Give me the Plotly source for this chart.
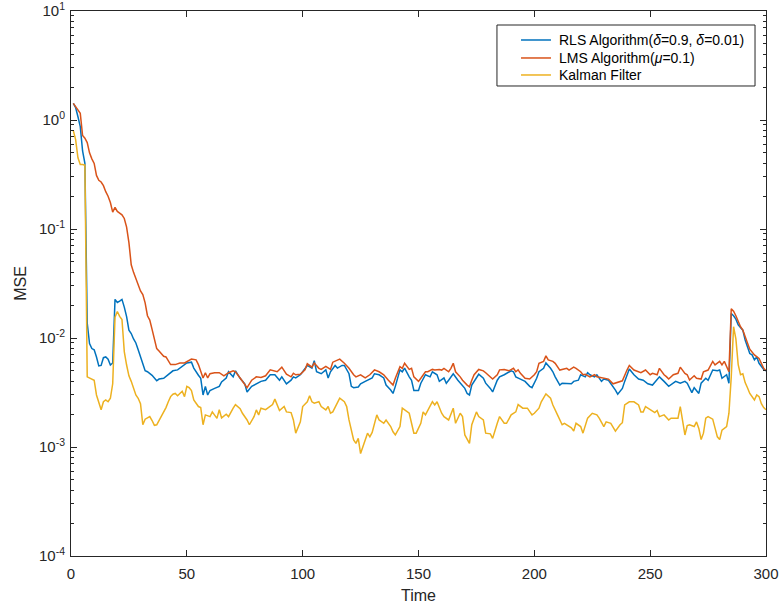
import plotly.graph_objects as go

# ---- data: mean-square error per time step ----
rls_t = [1, 2, 3, 4, 5, 6, 7, 8, 9, 10, 11, 12, 13, 14, 15, 16, 17, 18, 19, 20,
         21, 22, 23, 24, 25, 26, 27, 28, 29, 30, 31, 32, 33, 35, 37, 38, 40, 42, 44, 46,
         48, 50, 52, 53, 55, 56, 57, 58, 59, 60, 62, 64, 65, 67, 68, 70, 71, 73, 75, 76,
         78, 80, 82, 84, 86, 88, 90, 91, 93, 95, 96, 97, 99, 100, 102, 104, 105, 106, 108, 110,
         111, 112, 114, 115, 117, 118, 120, 121, 122, 124, 125, 127, 130, 131, 133, 135, 136, 138, 139, 140,
         142, 143, 144, 146, 147, 148, 150, 151, 153, 155, 156, 158, 159, 161, 162, 163, 165, 167, 168, 170,
         171, 172, 173, 175, 176, 178, 179, 181, 182, 184, 185, 187, 188, 190, 191, 192, 194, 196, 198, 199,
         201, 202, 204, 205, 207, 208, 209, 211, 212, 214, 216, 217, 219, 220, 222, 223, 224, 226, 227, 229,
         230, 232, 233, 235, 236, 238, 239, 241, 243, 245, 247, 249, 251, 253, 254, 256, 258, 261, 263, 265,
         266, 268, 269, 271, 272, 274, 275, 277, 279, 280, 281, 283, 284, 285, 286, 287, 288, 290, 291, 293,
         294, 295, 296, 297, 299, 300]
rls_mse = [1.42, 1.30, 1.07, 0.87, 0.52, 0.40, 0.0137, 0.0089, 0.0080, 0.0078, 0.0067, 0.00555, 0.0056, 0.0066, 0.0067, 0.0064, 0.00565, 0.0059, 0.0226, 0.0212,
           0.0218, 0.0226, 0.0192, 0.0157, 0.0118, 0.0110, 0.0098, 0.0090, 0.0078, 0.0067, 0.0056, 0.0050, 0.0049, 0.00455, 0.00405, 0.0042, 0.00427, 0.0046, 0.0050, 0.0051,
           0.0055, 0.0059, 0.0060, 0.0053, 0.00455, 0.00427, 0.0030, 0.0036, 0.0030, 0.0033, 0.00345, 0.0036, 0.00395, 0.0043, 0.0049, 0.0044, 0.0050, 0.00427, 0.0038, 0.0032,
           0.0036, 0.0038, 0.0040, 0.0041, 0.0046, 0.0046, 0.0041, 0.0044, 0.0038, 0.0041, 0.0044, 0.0043, 0.0046, 0.0049, 0.0056, 0.0053, 0.0062, 0.0049, 0.0047, 0.0051,
           0.0043, 0.0049, 0.0056, 0.0053, 0.0056, 0.0056, 0.0047, 0.0036, 0.0035, 0.00355, 0.0038, 0.0040, 0.0043, 0.0047, 0.0046, 0.0043, 0.0037, 0.00333, 0.0031, 0.0036,
           0.0051, 0.0049, 0.0053, 0.0044, 0.0041, 0.0033, 0.0033, 0.00385, 0.0046, 0.0044, 0.0049, 0.0046, 0.0040, 0.0043, 0.00385, 0.0041, 0.0047, 0.0041, 0.00385, 0.00345,
           0.0031, 0.0030, 0.0037, 0.0044, 0.00465, 0.00427, 0.00385, 0.00345, 0.0032, 0.0041, 0.0044, 0.0046, 0.00475, 0.0050, 0.0049, 0.0044, 0.0042, 0.0040, 0.0036, 0.0035,
           0.00427, 0.0049, 0.00527, 0.0059, 0.00527, 0.0049, 0.0044, 0.0037, 0.00385, 0.00385, 0.0038, 0.0040, 0.0041, 0.0046, 0.0044, 0.0048, 0.0046, 0.0044, 0.0046, 0.0040,
           0.0042, 0.0041, 0.00385, 0.00333, 0.00305, 0.00345, 0.0040, 0.0052, 0.0046, 0.0042, 0.0041, 0.0038, 0.0037, 0.0041, 0.0044, 0.0040, 0.0036, 0.0040, 0.00385, 0.0040,
           0.00385, 0.00315, 0.0035, 0.0031, 0.00385, 0.00427, 0.0041, 0.00508, 0.0050, 0.00508, 0.00427, 0.0046, 0.00385, 0.0168, 0.0160, 0.0149, 0.0132, 0.0118, 0.0096, 0.0072,
           0.0070, 0.0063, 0.0067, 0.00586, 0.00515, 0.0050]

lms_t = [1, 2, 3, 4, 5, 6, 7, 8, 9, 10, 11, 12, 13, 14, 15, 16, 17, 18, 19, 20,
         21, 22, 23, 24, 25, 26, 27, 28, 29, 30, 31, 32, 33, 34, 35, 36, 37, 38, 39, 40,
         41, 42, 43, 45, 47, 49, 51, 52, 54, 55, 57, 58, 59, 60, 62, 64, 66, 68, 70, 71,
         73, 75, 76, 78, 80, 82, 84, 86, 88, 89, 91, 93, 95, 96, 97, 99, 101, 102, 104, 105,
         107, 108, 110, 112, 113, 115, 116, 118, 120, 122, 123, 125, 127, 129, 131, 133, 135, 137, 139, 140,
         142, 143, 144, 146, 147, 148, 150, 151, 153, 154, 156, 157, 159, 160, 161, 163, 164, 165, 166, 168,
         169, 171, 172, 173, 174, 176, 178, 179, 181, 182, 184, 185, 187, 189, 191, 192, 193, 194, 196, 198,
         200, 201, 202, 204, 205, 206, 208, 209, 211, 212, 214, 215, 217, 218, 220, 221, 222, 224, 226, 227,
         228, 230, 232, 234, 236, 238, 240, 241, 243, 245, 246, 248, 250, 251, 253, 254, 256, 257, 258, 260,
         262, 263, 265, 266, 267, 269, 270, 272, 273, 275, 277, 278, 280, 281, 282, 284, 285, 286, 287, 289,
         290, 292, 293, 295, 297, 299, 300]
lms_mse = [1.42, 1.33, 1.25, 1.15, 0.72, 0.68, 0.62, 0.50, 0.44, 0.40, 0.31, 0.28, 0.27, 0.25, 0.22, 0.20, 0.175, 0.143, 0.158, 0.145,
           0.140, 0.135, 0.125, 0.104, 0.075, 0.047, 0.040, 0.035, 0.032, 0.027, 0.025, 0.021, 0.016, 0.0146, 0.012, 0.0098, 0.0080, 0.0076, 0.0072, 0.0068,
           0.0067, 0.0062, 0.0057, 0.0057, 0.0059, 0.0059, 0.0063, 0.0064, 0.0063, 0.0057, 0.0043, 0.0048, 0.0043, 0.0047, 0.0048, 0.0048, 0.0045, 0.0048, 0.0050, 0.0049,
           0.0043, 0.0038, 0.0035, 0.0041, 0.0044, 0.00435, 0.0045, 0.0051, 0.0050, 0.0049, 0.0054, 0.00465, 0.0044, 0.00475, 0.0046, 0.00465, 0.0051, 0.0058, 0.0054, 0.0059,
           0.00527, 0.00515, 0.0055, 0.00515, 0.0060, 0.0062, 0.0064, 0.00586, 0.00527, 0.0046, 0.0044, 0.0046, 0.0043, 0.0046, 0.0051, 0.0049, 0.0046, 0.0041, 0.0037, 0.00427,
           0.00546, 0.00527, 0.00586, 0.00515, 0.00527, 0.0044, 0.0040, 0.00427, 0.0049, 0.0049, 0.00515, 0.00508, 0.00515, 0.00508, 0.00527, 0.0049, 0.00527, 0.00586, 0.0049, 0.0044,
           0.0041, 0.0037, 0.00357, 0.0041, 0.0046, 0.00515, 0.0050, 0.0048, 0.0044, 0.0042, 0.0046, 0.0051, 0.00515, 0.0050, 0.00527, 0.0049, 0.0051, 0.00474, 0.00427, 0.0042,
           0.0046, 0.0049, 0.00586, 0.0061, 0.00685, 0.0063, 0.0061, 0.00586, 0.00508, 0.00515, 0.00527, 0.00508, 0.0054, 0.00527, 0.0049, 0.0046, 0.00465, 0.0044, 0.0046, 0.0044,
           0.00435, 0.00427, 0.0042, 0.0038, 0.0039, 0.00405, 0.00508, 0.0056, 0.00508, 0.0049, 0.0048, 0.00508, 0.0046, 0.00474, 0.0046, 0.00527, 0.0046, 0.00442, 0.0042, 0.0046,
           0.00474, 0.0054, 0.00474, 0.0046, 0.00412, 0.0045, 0.00427, 0.0042, 0.0049, 0.00508, 0.0061, 0.00567, 0.0061, 0.00567, 0.0061, 0.0049, 0.0185, 0.0176, 0.0160, 0.0127,
           0.0118, 0.0090, 0.0079, 0.0070, 0.0065, 0.00527, 0.0050]

kal_t = [1, 2, 3, 4, 5, 6, 7, 8, 9, 10, 11, 12, 13, 14, 15, 16, 17, 18, 19, 20,
         21, 22, 23, 24, 25, 26, 27, 28, 29, 30, 31, 32, 33, 34, 35, 36, 37, 38, 39, 40,
         41, 42, 43, 44, 45, 46, 47, 48, 49, 50, 51, 52, 53, 54, 55, 56, 57, 58, 59, 60,
         61, 63, 64, 65, 67, 68, 70, 71, 73, 74, 76, 77, 79, 80, 81, 82, 84, 85, 87, 88,
         89, 90, 92, 93, 95, 96, 97, 99, 100, 102, 103, 104, 105, 107, 108, 110, 111, 112, 113, 115,
         116, 118, 119, 120, 122, 123, 124, 125, 127, 128, 129, 130, 132, 133, 135, 136, 138, 139, 140, 142,
         143, 145, 146, 148, 149, 151, 152, 153, 155, 156, 157, 158, 160, 161, 163, 164, 165, 166, 168, 169,
         170, 172, 173, 175, 176, 178, 179, 181, 182, 184, 185, 187, 188, 190, 192, 193, 195, 197, 199, 200,
         202, 203, 205, 207, 208, 210, 212, 213, 215, 216, 217, 218, 220, 221, 223, 225, 227, 228, 230, 231,
         233, 234, 235, 237, 238, 239, 240, 241, 243, 245, 246, 247, 248, 250, 252, 253, 254, 256, 258, 259,
         261, 262, 263, 264, 265, 266, 267, 269, 270, 271, 272, 273, 274, 275, 277, 279, 280, 281, 283, 284,
         285, 286, 287, 288, 289, 290, 291, 292, 293, 295, 296, 297, 298, 299, 300]
kal_mse = [0.80, 0.66, 0.45, 0.39, 0.39, 0.385, 0.0044, 0.0043, 0.0042, 0.0041, 0.0030, 0.0025, 0.0022, 0.0026, 0.0027, 0.0026, 0.0028, 0.0038, 0.0155, 0.0175,
           0.0158, 0.0148, 0.0075, 0.00565, 0.0045, 0.0040, 0.0035, 0.0030, 0.0028, 0.0025, 0.0016, 0.0018, 0.00185, 0.0019, 0.00175, 0.00158, 0.0016, 0.00175, 0.00197, 0.0021,
           0.0023, 0.0026, 0.0029, 0.00305, 0.0031, 0.00295, 0.0031, 0.00325, 0.0029, 0.0036, 0.0035, 0.0033, 0.0027, 0.0025, 0.00235, 0.0023, 0.0016, 0.00197, 0.00195, 0.0019,
           0.0021, 0.00183, 0.0022, 0.00185, 0.0020, 0.0019, 0.00227, 0.00245, 0.00225, 0.00204, 0.00177, 0.0016, 0.0019, 0.00219, 0.00197, 0.00227, 0.0022, 0.00227, 0.00245, 0.00275,
           0.0024, 0.00216, 0.00235, 0.0021, 0.00207, 0.00177, 0.00134, 0.0017, 0.00235, 0.0026, 0.00295, 0.0026, 0.00252, 0.0026, 0.00235, 0.00219, 0.00235, 0.00204, 0.0021, 0.0025,
           0.0028, 0.0026, 0.00235, 0.00177, 0.00116, 0.00108, 0.0012, 0.00087, 0.00116, 0.00134, 0.00124, 0.00136, 0.00197, 0.00177, 0.00165, 0.00177, 0.00154, 0.00138, 0.00129, 0.00154,
           0.00227, 0.0021, 0.00204, 0.00134, 0.00134, 0.00165, 0.0021, 0.00197, 0.00235, 0.0026, 0.00243, 0.0026, 0.00204, 0.0019, 0.00177, 0.00197, 0.00227, 0.00165, 0.00204, 0.0019,
           0.00129, 0.00108, 0.0016, 0.0021, 0.0019, 0.00177, 0.00134, 0.00132, 0.0012, 0.00165, 0.0019, 0.00165, 0.00165, 0.00197, 0.0021, 0.00245, 0.00227, 0.00227, 0.00197, 0.00204,
           0.00227, 0.0026, 0.00307, 0.0028, 0.00243, 0.00197, 0.0016, 0.00165, 0.00154, 0.0015, 0.0014, 0.00165, 0.00154, 0.00134, 0.00184, 0.00204, 0.00197, 0.00184, 0.00154, 0.0017,
           0.00165, 0.00154, 0.0014, 0.0016, 0.00167, 0.00243, 0.00252, 0.0026, 0.0026, 0.00243, 0.0021, 0.0021, 0.00235, 0.0022, 0.00207, 0.00216, 0.0019, 0.00197, 0.00177, 0.00184,
           0.00184, 0.00184, 0.00235, 0.00165, 0.00129, 0.00157, 0.0016, 0.00154, 0.0017, 0.00148, 0.00117, 0.00134, 0.00184, 0.0019, 0.0018, 0.00124, 0.00117, 0.00143, 0.00154, 0.00204,
           0.0044, 0.0127, 0.0098, 0.0057, 0.0046, 0.0047, 0.0039, 0.0035, 0.0031, 0.0027, 0.0030, 0.0029, 0.0025, 0.0023, 0.0022]

series_names = ["RLS Algorithm(<i>δ</i>=0.9, <i>δ</i>=0.01)",
                "LMS Algorithm(<i>μ</i>=0.1)",
                "Kalman Filter"]
series_t = [rls_t, lms_t, kal_t]
series_mse = [rls_mse, lms_mse, kal_mse]
series_colors = ["#0072BD", "#D95319", "#EDB120"]

x_ticks = [0, 50, 100, 150, 200, 250, 300]
y_exponents = [-4, -3, -2, -1, 0, 1]

axis_color = "#262626"
family = "Liberation Sans, Arial, Helvetica, sans-serif"

fig = go.Figure()
for name, t, mse, color in zip(series_names, series_t, series_mse, series_colors):
    fig.add_trace(go.Scatter(x=t, y=mse, mode="lines", name=name,
                             line=dict(color=color, width=1.5), showlegend=False))

# boxed key in the upper-right corner of the axes (paper coordinates)
box_x0, box_x1, box_y0, box_y1 = 0.6129, 0.9842, 0.8624, 0.9743
row_y = [0.9468, 0.9138, 0.8826]
sample_x0, sample_x1, label_x = 0.6475, 0.6906, 0.6993

shapes = [dict(type="rect", xref="paper", yref="paper",
               x0=box_x0, x1=box_x1, y0=box_y0, y1=box_y1,
               line=dict(color=axis_color, width=1), fillcolor="white", layer="above")]
annotations = []
for name, color, y in zip(series_names, series_colors, row_y):
    shapes.append(dict(type="line", xref="paper", yref="paper",
                       x0=sample_x0, x1=sample_x1, y0=y, y1=y,
                       line=dict(color=color, width=1.5), layer="above"))
    annotations.append(dict(xref="paper", yref="paper", x=label_x, y=y,
                            xanchor="left", yanchor="middle", showarrow=False,
                            text=name, font=dict(family=family, size=14, color="black")))

minor_vals = [m * 10.0 ** e for e in y_exponents[:-1] for m in range(2, 10)]

fig.update_layout(
    width=781, height=611,
    margin=dict(l=71, r=15, t=11, b=55),
    paper_bgcolor="white", plot_bgcolor="white",
    font=dict(family=family, size=15, color=axis_color),
    showlegend=False,
    shapes=shapes,
    annotations=annotations,
)
fig.update_xaxes(
    range=[0, 300], tickvals=x_ticks, ticktext=[str(v) for v in x_ticks],
    ticks="inside", ticklen=6, tickcolor=axis_color, tickwidth=1,
    ticklabelstandoff=4, ticklabeloverflow="allow",
    showline=True, linecolor=axis_color, linewidth=1, mirror="ticks",
    showgrid=False, zeroline=False, automargin=False,
    title=dict(text="Time", font=dict(size=16), standoff=8),
)
fig.update_yaxes(
    type="log", range=[-4, 1],
    tickvals=[10.0 ** e for e in y_exponents],
    ticktext=[f"10<sup>{e}</sup>" for e in y_exponents],
    ticks="inside", ticklen=6, tickcolor=axis_color, tickwidth=1,
    ticklabelstandoff=2, ticklabeloverflow="allow",
    minor=dict(tickvals=minor_vals, ticks="inside", ticklen=3,
               tickcolor=axis_color, showgrid=False),
    showline=True, linecolor=axis_color, linewidth=1, mirror="ticks",
    showgrid=False, zeroline=False, automargin=False,
    title=dict(text="MSE", font=dict(size=16), standoff=8),
)

fig.write_html("out.html")
